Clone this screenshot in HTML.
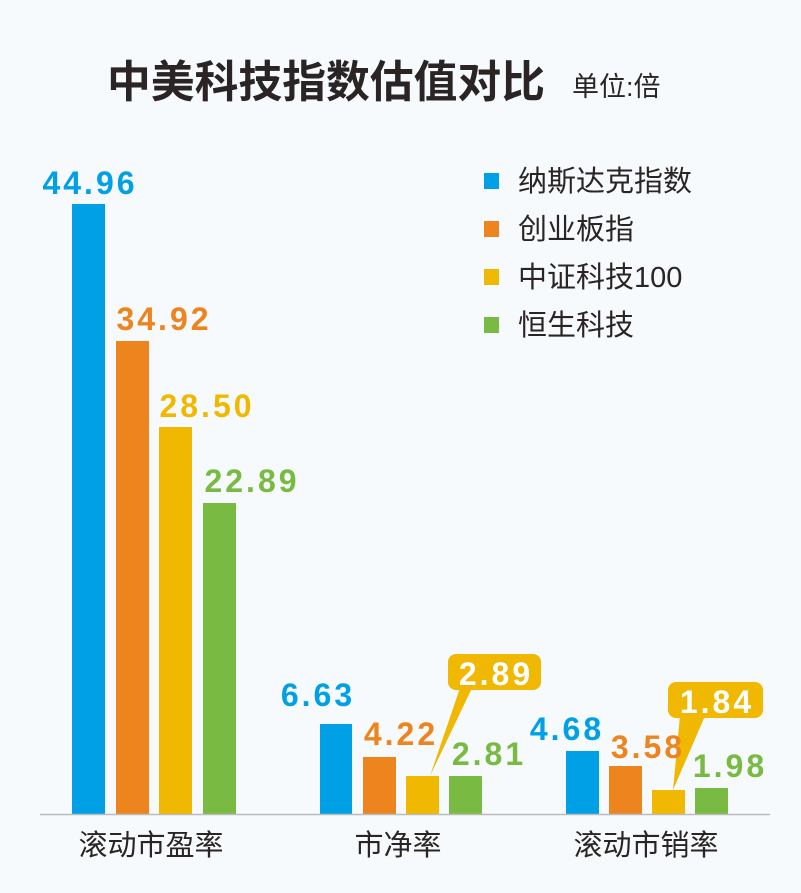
<!DOCTYPE html>
<html><head><meta charset="utf-8"><style>
body{margin:0;background:#f6fafd;}
svg{display:block;font-family:"Liberation Sans","Noto Sans CJK SC",sans-serif;}
</style></head><body>
<svg width="801" height="893" viewBox="0 0 801 893">
<rect width="801" height="893" fill="#f6fafd"/>
<text x="107" y="97" font-size="44" font-weight="bold" fill="#2a2524" textLength="438" lengthAdjust="spacingAndGlyphs">中美科技指数估值对比</text>
<text x="572" y="96" font-size="27" fill="#2a2524">单位:倍</text>
<!-- legend -->
<g font-size="29" fill="#2a2524">
<rect x="484" y="173" width="15" height="16" fill="#00a0e6"/><text x="518" y="191">纳斯达克指数</text>
<rect x="484" y="221" width="15" height="16" fill="#ed841e"/><text x="518" y="239">创业板指</text>
<rect x="484" y="269" width="15" height="16" fill="#f0b800"/><text x="518" y="287">中证科技100</text>
<rect x="484" y="317" width="15" height="16" fill="#79bb42"/><text x="518" y="335">恒生科技</text>
</g>
<!-- bars -->
<g>
<rect x="72" y="204" width="33" height="610" fill="#00a0e6"/>
<rect x="116" y="341" width="33" height="473" fill="#ed841e"/>
<rect x="159" y="427" width="33" height="387" fill="#f0b800"/>
<rect x="203" y="503" width="33" height="311" fill="#79bb42"/>
<rect x="320" y="724" width="32" height="90" fill="#00a0e6"/>
<rect x="363" y="757" width="33" height="57" fill="#ed841e"/>
<rect x="406" y="776" width="33" height="38" fill="#f0b800"/>
<rect x="449" y="776" width="33" height="38" fill="#79bb42"/>
<rect x="566" y="751" width="33" height="63" fill="#00a0e6"/>
<rect x="609" y="766" width="33" height="48" fill="#ed841e"/>
<rect x="652" y="790" width="33" height="24" fill="#f0b800"/>
<rect x="695" y="788" width="33" height="26" fill="#79bb42"/>
</g>
<line x1="40" y1="814.5" x2="770" y2="814.5" stroke="#bbbbbb" stroke-width="1.5"/>
<!-- callouts -->
<path d="M460 688 L430 776 L472 688 Z" fill="#f0b800"/>
<rect x="448" y="654" width="93" height="36" rx="8" fill="#f0b800"/>
<path d="M680 716 L673 790 L705 716 Z" fill="#f0b800"/>
<rect x="668" y="682" width="95" height="36" rx="8" fill="#f0b800"/>
<!-- value labels -->
<g font-size="32" font-weight="bold" text-anchor="middle" letter-spacing="3">
<text x="90" y="194" fill="#00a0e6">44.96</text>
<text x="164" y="330" fill="#ed841e">34.92</text>
<text x="207" y="417" fill="#f0b800">28.50</text>
<text x="252" y="492" fill="#79bb42">22.89</text>
<text x="318" y="706" fill="#00a0e6">6.63</text>
<text x="401" y="745" fill="#ed841e">4.22</text>
<text x="496" y="685" fill="#ffffff">2.89</text>
<text x="489" y="765" fill="#79bb42">2.81</text>
<text x="567" y="740" fill="#00a0e6">4.68</text>
<text x="648" y="758" fill="#ed841e">3.58</text>
<text x="717" y="713" fill="#ffffff">1.84</text>
<text x="730" y="777" fill="#79bb42">1.98</text>
</g>
<g font-size="29" fill="#2a2524" text-anchor="middle">
<text x="151" y="855">滚动市盈率</text>
<text x="398" y="855">市净率</text>
<text x="646" y="855">滚动市销率</text>
</g>
</svg>
</body></html>
